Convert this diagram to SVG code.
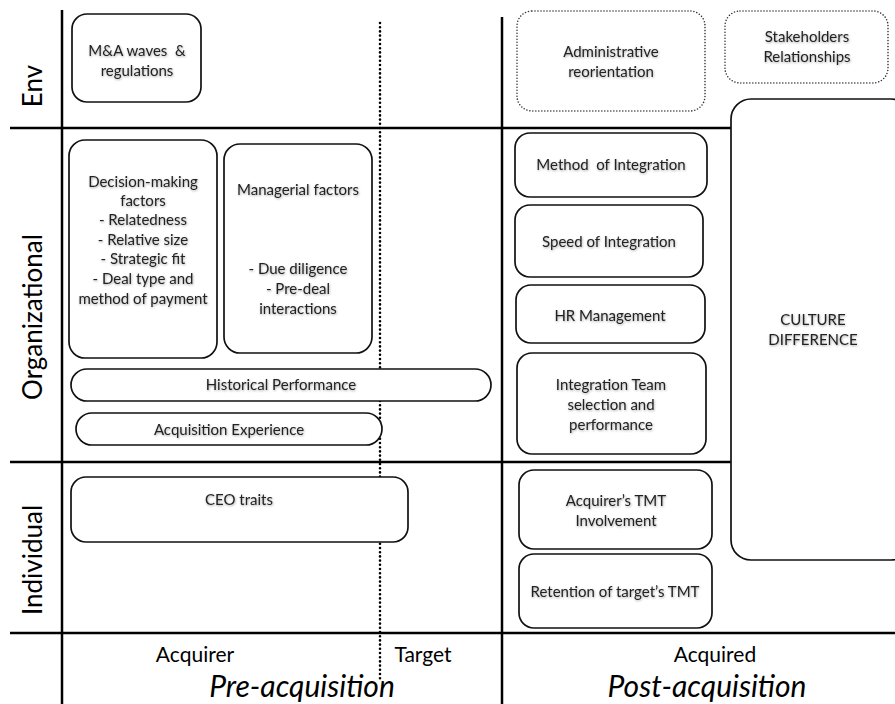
<svg xmlns="http://www.w3.org/2000/svg" width="895" height="704" viewBox="0 0 895 704">
  <defs>
    <filter id="soft" x="-10%" y="-30%" width="120%" height="160%">
      <feDropShadow dx="0.6" dy="1" stdDeviation="0.9" flood-color="#000" flood-opacity="0.35"/>
    </filter>
  </defs>
  <style>
    .grid { stroke: #000; stroke-width: 2.5; fill: none; }
    .dots { stroke: #000; stroke-width: 2.6; stroke-dasharray: 0 4.2; stroke-linecap: round; fill: none; }
    .box { fill: #fff; stroke: #111; stroke-width: 1.7; }
    .dbox { fill: #fff; stroke: #333; stroke-width: 1.6; stroke-dasharray: 0 3; stroke-linecap: round; }
    text { font-family: "Lato", "Open Sans", "Liberation Sans", sans-serif; fill: #222; text-anchor: middle; white-space: pre; }
    .t { font-size: 15px; filter: url(#soft); }
    .side { font-size: 26px; fill: #000; }
    .col { font-size: 21px; fill: #000; }
    .phase { font-size: 30px; font-style: italic; fill: #000; }
  </style>

  <!-- frame lines -->
  <g id="connectors">
    <line class="grid" x1="62" y1="10" x2="62" y2="704"/>
    <line class="grid" x1="502" y1="17" x2="502" y2="704"/>
    <line class="grid" x1="10" y1="128" x2="895" y2="128"/>
    <line class="grid" x1="10" y1="462" x2="895" y2="462"/>
    <line class="grid" x1="10" y1="633" x2="895" y2="633"/>
    <line class="dots" x1="380" y1="23" x2="380" y2="682"/>
  </g>

  <!-- row and column headings -->
  <text class="side" transform="translate(42 86) rotate(-90)">Env</text>
  <text class="side" transform="translate(42 317) rotate(-90)">Organizational</text>
  <text class="side" transform="translate(42 560) rotate(-90)">Individual</text>
  <text class="col" x="195" y="662">Acquirer</text>
  <text class="col" x="423" y="662">Target</text>
  <text class="col" x="715" y="662">Acquired</text>
  <text class="phase" x="302" y="697">Pre-acquisition</text>
  <text class="phase" x="707" y="697">Post-acquisition</text>

  <!-- culture box spans rows -->
  <g id="culture">
    <rect class="box" x="731" y="99" width="180" height="461" rx="20"/>
    <text class="t" x="813" y="325">CULTURE</text>
    <text class="t" x="813" y="345">DIFFERENCE</text>
  </g>

  <g id="ma-waves">
    <rect class="box" x="72" y="14" width="129" height="88" rx="15"/>
    <text class="t" x="137" y="56">M&amp;A waves  &amp;</text>
    <text class="t" x="137" y="76">regulations</text>
  </g>

  <g id="admin">
    <rect class="dbox" x="517" y="11" width="188" height="100" rx="15"/>
    <text class="t" x="611" y="57">Administrative</text>
    <text class="t" x="611" y="77">reorientation</text>
  </g>

  <g id="stakeholders">
    <rect class="dbox" x="725" y="11" width="163" height="72" rx="15"/>
    <text class="t" x="807" y="42">Stakeholders</text>
    <text class="t" x="807" y="62">Relationships</text>
  </g>

  <g id="decision">
    <rect class="box" x="69" y="140" width="148" height="218" rx="16"/>
    <text class="t" x="143" y="187">Decision-making</text>
    <text class="t" x="143" y="206">factors</text>
    <text class="t" x="143" y="225">- Relatedness</text>
    <text class="t" x="143" y="245">- Relative size</text>
    <text class="t" x="143" y="264">- Strategic fit</text>
    <text class="t" x="143" y="284">- Deal type and</text>
    <text class="t" x="143" y="304">method of payment</text>
  </g>

  <g id="managerial">
    <rect class="box" x="224" y="144" width="148" height="209" rx="16"/>
    <text class="t" x="298" y="195">Managerial factors</text>
    <text class="t" x="298" y="274">- Due diligence</text>
    <text class="t" x="298" y="294">- Pre-deal</text>
    <text class="t" x="298" y="314">interactions</text>
  </g>

  <g id="historical">
    <rect class="box" x="71" y="369" width="420" height="32" rx="16"/>
    <text class="t" x="281" y="390">Historical Performance</text>
  </g>

  <g id="experience">
    <rect class="box" x="76" y="413" width="306" height="32" rx="16"/>
    <text class="t" x="229" y="435">Acquisition Experience</text>
  </g>

  <g id="ceo">
    <rect class="box" x="71" y="477" width="337" height="65" rx="15"/>
    <text class="t" x="239" y="505">CEO traits</text>
  </g>

  <g id="method">
    <rect class="box" x="515" y="133" width="192" height="64" rx="15"/>
    <text class="t" x="611" y="170">Method  of Integration</text>
  </g>

  <g id="speed">
    <rect class="box" x="515" y="205" width="188" height="72" rx="15"/>
    <text class="t" x="609" y="247">Speed of Integration</text>
  </g>

  <g id="hr">
    <rect class="box" x="516" y="285" width="189" height="58" rx="15"/>
    <text class="t" x="610" y="321">HR Management</text>
  </g>

  <g id="team">
    <rect class="box" x="517" y="353" width="189" height="101" rx="15"/>
    <text class="t" x="611" y="390">Integration Team</text>
    <text class="t" x="611" y="410">selection and</text>
    <text class="t" x="611" y="430">performance</text>
  </g>

  <g id="tmt">
    <rect class="box" x="519" y="470" width="193" height="79" rx="15"/>
    <text class="t" x="616" y="506">Acquirer’s TMT</text>
    <text class="t" x="616" y="526">Involvement</text>
  </g>

  <g id="retention">
    <rect class="box" x="519" y="554" width="193" height="74" rx="15"/>
    <text class="t" x="615" y="597">Retention of target’s TMT</text>
  </g>
</svg>
